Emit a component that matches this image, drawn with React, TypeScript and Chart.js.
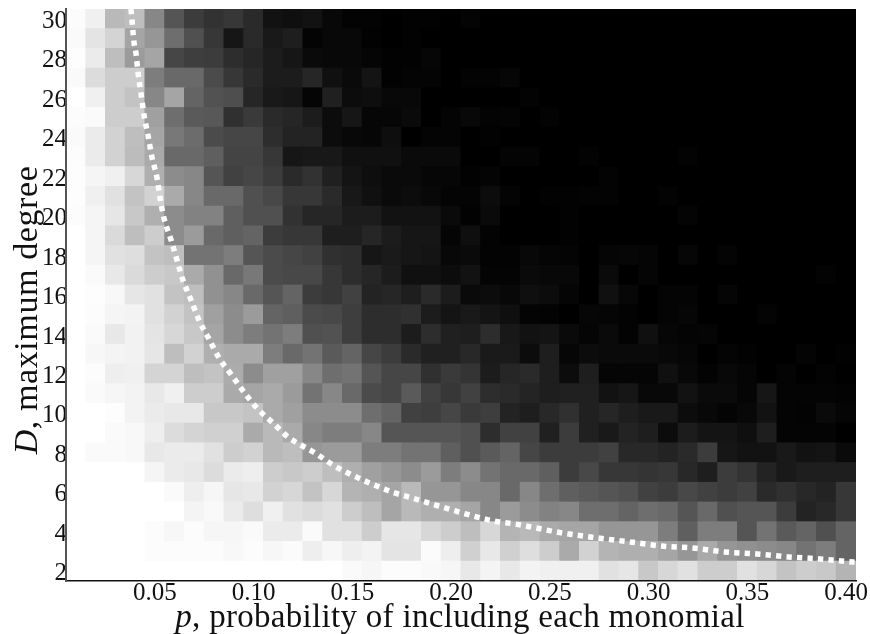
import React, { useEffect, useRef } from "react";
import { Chart, registerables } from "chart.js";

Chart.register(...registerables);

const pLabels = ["0.01","0.02","0.03","0.04","0.05","0.06","0.07","0.08","0.09","0.10","0.11","0.12","0.13","0.14","0.15","0.16","0.17","0.18","0.19","0.20","0.21","0.22","0.23","0.24","0.25","0.26","0.27","0.28","0.29","0.30","0.31","0.32","0.33","0.34","0.35","0.36","0.37","0.38","0.39","0.40"];
const xTickEvery = 5;
const yTicks = [2,4,6,8,10,12,14,16,18,20,22,24,26,28,30];

// brightness of each cell (0 black .. 255 white), columns p = 0.01 .. 0.40
const d30 = [252,240,185,190,135,85,60,50,55,42,18,15,18,8,3,3,0,2,2,0,4,0,0,0,0,0,0,0,0,0,0,0,0,0,0,0,0,0,0,0];
const d29 = [250,228,212,165,150,110,80,55,22,42,25,30,4,8,8,2,0,2,0,0,0,0,0,0,0,0,0,0,0,0,0,0,0,0,0,0,0,0,0,0];
const d28 = [253,235,190,155,165,70,62,60,45,38,28,22,10,8,8,5,2,2,6,0,0,0,0,0,0,0,0,0,0,0,0,0,0,0,0,0,0,0,0,0];
const d27 = [250,220,205,205,125,105,105,75,55,42,28,28,38,16,10,20,2,4,4,0,3,3,6,0,0,0,0,0,0,0,0,0,0,0,0,0,0,0,0,0];
const d26 = [255,240,205,195,135,165,100,82,78,38,25,22,5,32,12,14,8,8,0,0,0,0,0,3,0,0,0,0,0,0,0,0,0,0,0,0,0,0,0,0];
const d25 = [252,250,205,205,160,110,90,88,48,58,42,38,28,12,22,6,6,10,0,4,8,3,4,0,3,0,0,0,0,0,0,0,0,0,0,0,0,0,0,0];
const d24 = [250,235,210,190,165,120,108,75,70,70,45,35,35,12,8,6,14,0,4,4,0,2,0,0,0,0,0,0,0,0,0,0,0,0,0,0,0,0,0,0];
const d23 = [252,235,210,188,170,105,105,95,68,68,55,22,24,24,16,16,16,10,10,10,0,0,4,4,0,0,3,0,0,0,0,3,0,0,0,0,0,0,0,0];
const d22 = [253,245,240,215,175,140,135,85,65,70,60,42,50,32,20,14,10,10,6,6,2,4,0,0,0,0,0,3,0,0,0,0,0,0,0,0,0,0,0,0];
const d21 = [253,240,225,195,210,170,135,105,105,80,72,55,55,42,24,16,10,12,8,4,4,12,4,0,2,2,3,3,0,0,3,0,0,0,0,0,0,0,0,0];
const d20 = [252,245,230,200,175,140,130,130,95,80,80,50,38,38,28,28,18,18,18,10,2,10,0,0,0,2,0,0,0,0,0,4,0,0,0,0,0,0,0,0];
const d19 = [255,245,218,190,205,140,155,105,95,100,60,55,55,30,30,38,28,22,22,5,15,3,0,0,0,2,0,0,0,0,0,0,0,0,0,0,0,0,0,0];
const d18 = [255,245,225,222,195,190,115,115,125,85,75,70,65,48,45,22,26,22,20,8,10,3,3,8,5,4,0,5,6,5,0,6,0,4,0,0,0,0,0,0];
const d17 = [255,250,232,218,205,200,170,145,105,120,75,72,72,55,45,38,28,16,16,12,18,4,4,10,8,8,0,10,0,5,0,0,0,0,0,0,0,0,3,0];
const d16 = [255,253,248,230,225,195,190,145,135,105,85,100,60,55,65,35,38,30,42,28,10,12,8,15,12,5,0,16,7,0,4,4,0,5,0,0,0,0,0,0];
const d15 = [255,252,245,243,225,210,195,160,140,155,100,95,75,72,62,45,45,48,28,20,25,20,15,4,3,0,6,5,3,0,4,6,0,0,0,4,0,0,0,0];
const d14 = [255,250,232,242,228,215,200,165,140,125,115,125,80,82,62,45,45,28,45,32,30,45,24,18,20,10,5,10,3,16,6,4,5,0,0,0,0,0,0,0];
const d13 = [255,247,244,242,230,190,210,175,170,170,125,105,115,90,100,70,60,42,32,32,40,26,26,12,30,6,12,10,10,10,8,6,0,4,2,0,0,4,0,2];
const d12 = [255,252,238,240,212,212,190,195,172,140,160,160,135,110,115,85,70,70,48,58,52,28,38,42,30,12,30,5,5,5,16,8,3,8,5,0,4,0,3,0];
const d11 = [255,250,246,243,232,240,205,205,170,165,170,155,115,135,105,75,70,90,65,55,65,45,42,36,30,32,32,18,22,8,8,18,10,10,5,22,4,4,4,3];
const d10 = [255,255,253,243,235,232,232,200,200,195,170,160,140,140,140,110,100,65,62,70,58,62,35,30,40,48,32,38,30,25,25,12,8,4,8,18,4,3,10,5];
const d9 = [255,255,250,248,238,220,212,208,208,170,185,170,135,125,125,135,85,85,85,85,80,45,65,65,32,60,32,25,35,30,12,28,20,20,15,30,4,4,4,0];
const d8 = [255,250,250,248,232,235,235,225,205,210,185,190,150,155,155,125,125,115,115,95,80,90,100,70,60,60,60,65,40,40,35,42,60,22,18,18,25,18,20,10];
const d7 = [255,255,255,255,245,235,232,220,235,238,205,200,205,190,175,160,150,140,155,125,140,115,105,105,95,60,72,55,55,52,55,40,30,60,52,35,25,30,30,30];
const d6 = [255,255,255,255,255,250,238,246,230,232,210,215,195,215,180,175,165,185,150,150,135,135,105,135,110,95,90,85,80,65,60,72,65,60,65,42,48,40,35,55];
const d5 = [255,255,255,255,255,255,244,249,235,222,240,225,220,225,205,190,165,185,175,175,165,135,155,140,130,135,110,110,100,110,105,85,105,80,85,85,60,35,40,55];
const d4 = [255,255,255,255,252,247,252,246,246,250,235,235,250,225,225,205,230,230,215,205,190,215,180,185,170,165,165,150,150,150,125,95,125,125,85,115,90,100,80,100];
const d3 = [255,255,255,255,252,252,252,252,248,252,247,251,238,247,238,243,228,228,251,238,208,232,208,222,205,170,210,180,175,175,165,150,170,150,145,140,135,115,125,100];
const d2 = [255,255,255,255,255,255,255,255,255,255,255,255,255,255,250,246,252,252,249,246,232,244,232,243,240,240,240,225,230,200,215,225,205,205,225,215,195,205,200,180];
const degrees = [2,3,4,5,6,7,8,9,10,11,12,13,14,15,16,17,18,19,20,21,22,23,24,25,26,27,28,29,30];
const rows = [d2,d3,d4,d5,d6,d7,d8,d9,d10,d11,d12,d13,d14,d15,d16,d17,d18,d19,d20,d21,d22,d23,d24,d25,d26,d27,d28,d29,d30];

// dotted white boundary curve
const curveP = [.0379,.0384,.0394,.0404,.0415,.043,.0445,.0465,.0485,.0511,.0526,.0546,.0582,.0612,.0642,.0683,.0723,.0774,.0825,.0885,.0951,.1017,.1098,.1174,.122,.1311,.1402,.1498,.1599,.1701,.1802,.1903,.2004,.2111,.2217,.2323,.243,.2536,.2744,.2906,.3068,.3225,.3387,.3549,.3706,.3868,.4035,.405];
const curveD = [30.5,29.94,28.83,28.27,27.26,26.19,25.13,24.11,23,21.93,20.92,19.9,18.79,17.77,16.76,15.75,14.73,13.77,12.81,11.99,11.08,10.27,9.51,8.8,8.5,7.99,7.38,6.87,6.42,6.01,5.71,5.4,5.1,4.8,4.54,4.39,4.19,3.98,3.68,3.48,3.27,3.17,2.97,2.87,2.72,2.62,2.46,2.45];

const FONT = '"Liberation Serif"';
const xTitle = [
  { t: "p", style: "italic" },
  { t: ", probability of including each monomial", style: "normal" },
];
const yTitle = [
  { t: "D", style: "italic" },
  { t: ", maximum degree", style: "normal" },
];

function drawRuns(ctx: CanvasRenderingContext2D, runs: { t: string; style: string }[], size: number, spacing: string) {
  ctx.letterSpacing = spacing;
  let total = 0;
  for (const r of runs) {
    ctx.font = `${r.style} ${size}px ${FONT}`;
    total += ctx.measureText(r.t).width;
  }
  let x = -total / 2;
  for (const r of runs) {
    ctx.font = `${r.style} ${size}px ${FONT}`;
    ctx.fillText(r.t, x, 0);
    x += ctx.measureText(r.t).width;
  }
}

const titlesPlugin = {
  id: "mixedTitles",
  afterDraw(chart: any) {
    const { ctx } = chart;
    ctx.save();
    ctx.fillStyle = "#111";
    ctx.textAlign = "left";
    ctx.textBaseline = "alphabetic";
    ctx.save();
    ctx.translate(460, 627);
    drawRuns(ctx, xTitle, 33, "0.3px");
    ctx.restore();
    ctx.save();
    ctx.translate(37, 310);
    ctx.rotate(-Math.PI / 2);
    drawRuns(ctx, yTitle, 34, "0.6px");
    ctx.restore();
    ctx.restore();
  },
};

export default function App() {
  const ref = useRef<HTMLCanvasElement>(null);
  useEffect(() => {
    const cellSets = rows.map((row, i) => ({
      type: "bar" as const,
      label: `D=${degrees[i]}`,
      data: row.map(() => [degrees[i] - 0.5, degrees[i] + 0.5]),
      backgroundColor: row.map((v) => `rgb(${v},${v},${v})`),
      borderWidth: 0,
      inflateAmount: 0.5,
      grouped: false,
      barPercentage: 1,
      categoryPercentage: 1,
      xAxisID: "x",
      yAxisID: "y",
      order: 2,
    }));
    const chart = new Chart(ref.current!, {
      type: "bar",
      data: {
        labels: pLabels,
        datasets: [
          ...cellSets,
          {
            type: "line" as const,
            label: "boundary",
            data: curveP.map((p, i) => ({ x: p, y: curveD[i] })),
            borderColor: "#fff",
            borderWidth: 5.5,
            borderDash: [5.3, 5.2],
            pointRadius: 0,
            cubicInterpolationMode: "monotone",
            xAxisID: "x2",
            yAxisID: "y",
            order: 1,
          } as any,
        ],
      },
      options: {
        animation: false,
        responsive: false,
        layout: { autoPadding: false, padding: { top: 9, right: 14, left: 0, bottom: 0 } },
        plugins: { legend: { display: false }, tooltip: { enabled: false } },
        scales: {
          x: {
            type: "category",
            offset: true,
            grid: { display: false, drawTicks: false },
            border: { display: true, color: "#111", width: 1.5, z: 1 },
            ticks: {
              autoSkip: false,
              maxRotation: 0,
              padding: -3,
              color: "#111",
              font: { family: FONT, size: 25 },
              callback: (_v: any, i: number) => ((i + 1) % xTickEvery === 0 ? pLabels[i] : ""),
            },
            afterFit: (s: any) => { s.height = 53; s.paddingLeft = 0; s.paddingRight = 0; },
          },
          x2: { type: "linear", display: false, offset: false, min: 0.005, max: 0.405 },
          y: {
            type: "linear",
            min: 1.5,
            max: 30.5,
            grid: { display: false, drawTicks: false },
            border: { display: true, color: "#555", width: 2, z: 1 },
            afterBuildTicks: (s: any) => { s.ticks = yTicks.map((value) => ({ value })); },
            ticks: {
              padding: -1,
              labelOffset: 2.5,
              color: "#111",
              font: { family: FONT, size: 25 },
              callback: (v: any) => String(v),
            },
            afterFit: (s: any) => { s.width = 66; s.paddingTop = 0; s.paddingBottom = 0; },
          },
        },
      } as any,
      plugins: [titlesPlugin],
    });
    return () => chart.destroy();
  }, []);
  return (
    <div style={{ position: "absolute", left: 0, top: 0, width: 870, height: 634, background: "#fff" }}>
      <canvas ref={ref} width={870} height={634} style={{ display: "block" }} />
    </div>
  );
}
